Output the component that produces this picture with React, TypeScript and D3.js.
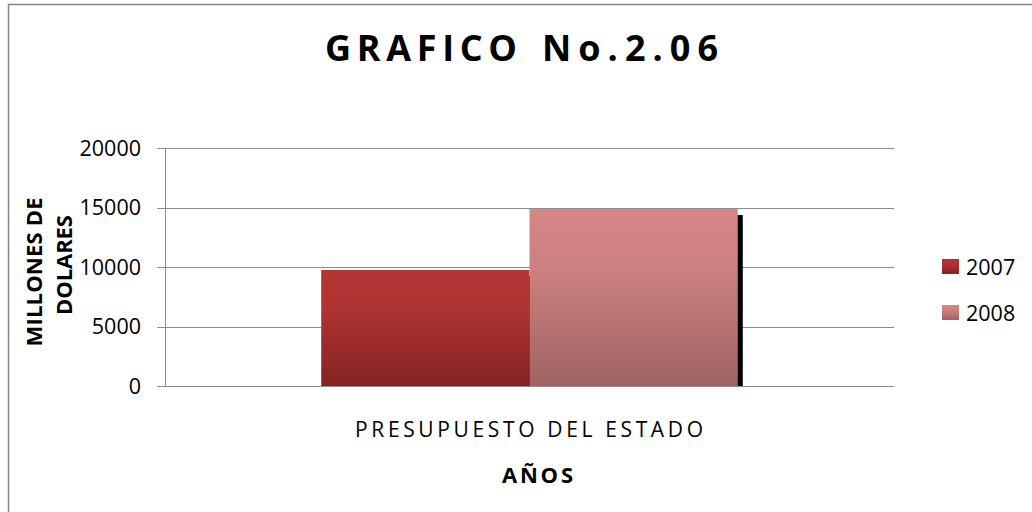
import React from "react";
import * as d3 from "d3";

const categories = ["PRESUPUESTO DEL ESTADO"];
const seriesNames = ["2007", "2008"];
const values2007 = [9750];
const values2008 = [14870];
const yTicks = [0, 5000, 10000, 15000, 20000];

const seriesValues = [values2007, values2008];
const gradients = [
  { id: "g2007", top: "#B43533", mid: "#AE3332", bottom: "#852322" },
  { id: "g2008", top: "#D68685", mid: "#CB807E", bottom: "#9E6362" },
];

const FONT = "'Open Sans', 'DejaVu Sans', sans-serif";

export default function App() {
  const W = 1032;
  const H = 512;
  const plot = { left: 165, right: 894, top: 148, bottom: 386 };
  const y = d3.scaleLinear().domain([0, 20000]).range([plot.bottom, plot.top]);
  const x = d3.scaleBand().domain(categories).range([plot.left, plot.right]).padding(0);
  const gapWidth = 0.75;
  const groupW = x.bandwidth() / (1 + gapWidth);
  const inner = (cat: string) =>
    d3
      .scaleBand()
      .domain(seriesNames)
      .range([
        (x(cat) as number) + x.bandwidth() / 2 - groupW / 2,
        (x(cat) as number) + x.bandwidth() / 2 + groupW / 2,
      ])
      .padding(0);

  return (
    <svg
      width={W}
      height={H}
      style={{ position: "fixed", left: 0, top: 0, background: "#fff" }}
      fontFamily={FONT}
    >
      <defs>
        {gradients.map((g) => (
          <linearGradient key={g.id} id={g.id} x1="0" y1="0" x2="0" y2="1">
            <stop offset="0" stopColor={g.top} />
            <stop offset="0.35" stopColor={g.mid} />
            <stop offset="1" stopColor={g.bottom} />
          </linearGradient>
        ))}
        <clipPath id="plotClip">
          <rect x={plot.left} y={0} width={W} height={plot.bottom} />
        </clipPath>
      </defs>
      <rect x={0} y={0} width={W} height={H} fill="#fff" />
      {/* chart frame */}
      <rect x={8.5} y={4.5} width={1100} height={600} fill="none" stroke="#868686" strokeWidth={1.5} />

      {/* title */}
      <text x={325} y={61} fontSize={36} fontWeight="bold" textLength={192} lengthAdjust="spacing" fill="#000">
        GRAFICO
      </text>
      <text x={542} y={61} fontSize={36} fontWeight="bold" textLength={176} lengthAdjust="spacing" fill="#000">
        No.2.06
      </text>

      {/* gridlines */}
      {yTicks.map((t) => (
        <line key={t} x1={plot.left} x2={plot.right} y1={Math.round(y(t)) + 0.5} y2={Math.round(y(t)) + 0.5} stroke="#8c8c8c" strokeWidth={1} />
      ))}
      {/* y axis */}
      <line x1={plot.left + 0.5} x2={plot.left + 0.5} y1={y(20000)} y2={y(0)} stroke="#8c8c8c" />
      {yTicks.map((t) => (
        <g key={"t" + t}>
          <line x1={plot.left - 8} x2={plot.left} y1={Math.round(y(t)) + 0.5} y2={Math.round(y(t)) + 0.5} stroke="#8c8c8c" />
          <text x={141} y={y(t)} dy="0.36em" textAnchor="end" fontSize={21.5} fill="#000">
            {t}
          </text>
        </g>
      ))}

      {/* shadows */}
      <g clipPath="url(#plotClip)">
        {categories.map((c, ci) =>
          seriesNames.map((s, si) => {
            const xs = inner(c);
            const v = seriesValues[si][ci];
            return (
              <rect
                key={"sh" + s}
                x={(xs(s) as number) + 5}
                y={y(v) + 6}
                width={xs.bandwidth()}
                height={plot.bottom - y(v)}
                fill="#000"
              />
            );
          })
        )}
      </g>
      {/* bars */}
      {categories.map((c, ci) =>
        seriesNames.map((s, si) => {
          const xs = inner(c);
          const v = seriesValues[si][ci];
          return (
            <rect
              key={"b" + s}
              x={xs(s) as number}
              y={y(v)}
              width={xs.bandwidth()}
              height={plot.bottom - y(v)}
              fill={`url(#${gradients[si].id})`}
            />
          );
        })
      )}
      {/* x axis line */}
      <line x1={plot.left} x2={plot.right} y1={plot.bottom + 0.5} y2={plot.bottom + 0.5} stroke="#8c8c8c" />

      {/* category label */}
      {categories.map((c) => (
        <text key={c} x={355} y={437} fontSize={21} textLength={348} lengthAdjust="spacing" fill="#000">
          {c}
        </text>
      ))}
      {/* x axis title */}
      <text x={502} y={483} fontSize={22} fontWeight="bold" textLength={71} lengthAdjust="spacing" fill="#000">
        AÑOS
      </text>

      {/* y axis title */}
      <g transform="translate(34,272) rotate(-90)">
        <text x={0} y={0} dy="0.36em" textAnchor="middle" fontSize={22} fontWeight="bold" textLength={149} lengthAdjust="spacing" fill="#000">
          MILLONES DE
        </text>
      </g>
      <g transform="translate(64,265) rotate(-90)">
        <text x={0} y={0} dy="0.36em" textAnchor="middle" fontSize={22} fontWeight="bold" textLength={100} lengthAdjust="spacing" fill="#000">
          DOLARES
        </text>
      </g>

      {/* legend */}
      {seriesNames.map((s, i) => (
        <g key={"l" + s} transform={`translate(942,${259 + i * 46})`}>
          <rect x={0} y={0} width={17} height={15} fill={`url(#${gradients[i].id})`} />
          <text x={24} y={8} dy="0.36em" fontSize={21.5} fill="#000">
            {s}
          </text>
        </g>
      ))}
    </svg>
  );
}
